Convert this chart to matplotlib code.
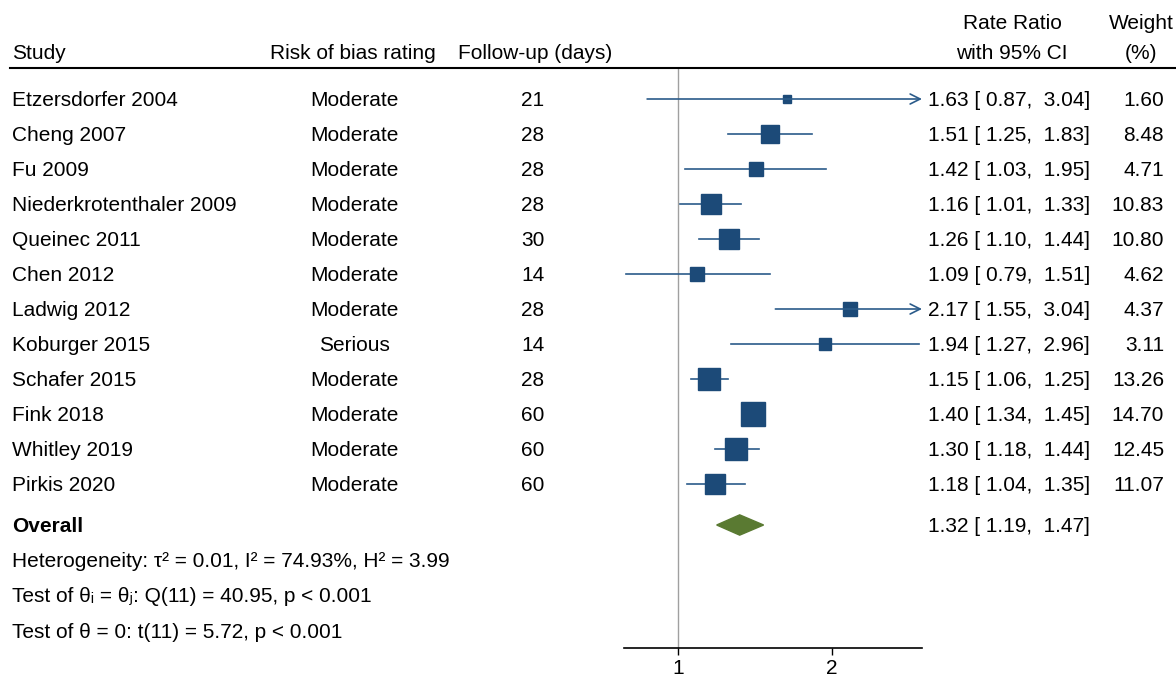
import matplotlib
matplotlib.use("Agg")
import matplotlib.pyplot as plt
import matplotlib.transforms as mtransforms
from matplotlib.lines import Line2D
from matplotlib.patches import Polygon
import numpy as np

plt.rcParams['font.family'] = ['Liberation Sans', 'DejaVu Sans']

# Data
studies = ["Etzersdorfer 2004", "Cheng 2007", "Fu 2009", "Niederkrotenthaler 2009",
           "Queinec 2011", "Chen 2012", "Ladwig 2012", "Koburger 2015",
           "Schafer 2015", "Fink 2018", "Whitley 2019", "Pirkis 2020"]
bias = ["Moderate", "Moderate", "Moderate", "Moderate", "Moderate", "Moderate",
        "Moderate", "Serious", "Moderate", "Moderate", "Moderate", "Moderate"]
followup = [21, 28, 28, 28, 30, 14, 28, 14, 28, 60, 60, 60]
rr = [1.63, 1.51, 1.42, 1.16, 1.26, 1.09, 2.17, 1.94, 1.15, 1.40, 1.30, 1.18]
lo = [0.87, 1.25, 1.03, 1.01, 1.10, 0.79, 1.55, 1.27, 1.06, 1.34, 1.18, 1.04]
hi = [3.04, 1.83, 1.95, 1.33, 1.44, 1.51, 3.04, 2.96, 1.25, 1.45, 1.44, 1.35]
weight = [1.60, 8.48, 4.71, 10.83, 10.80, 4.62, 4.37, 3.11, 13.26, 14.70, 12.45, 11.07]
overall = (1.32, 1.19, 1.47)
stats_lines = ["Heterogeneity: \u03c4\u00b2 = 0.01, I\u00b2 = 74.93%, H\u00b2 = 3.99",
               "Test of \u03b8\u1d62 = \u03b8\u2c7c: Q(11) = 40.95, p < 0.001",
               "Test of \u03b8 = 0: t(11) = 5.72, p < 0.001"]

W, H = 1176, 677
fs = 15
sq_color = "#1c4a78"
line_color = "#2b5b8a"
dia_color = "#5a7a32"
xmin, xmax = 0.784, 3.0

fig = plt.figure(figsize=(W / 100, H / 100), dpi=100)
ax = fig.add_axes([624 / W, (H - 648) / H, (922 - 624) / W, (648 - 68) / H])
ax.set_xscale("log")
ax.set_xlim(xmin, xmax)
ax.set_ylim((648 - 99) / 35, (68 - 99) / 35)

ax.axvline(1, color="#a0a0a0", lw=1, zorder=0)

for i in range(len(studies)):
    if hi[i] > xmax:
        ax.annotate("", xy=(xmax, i), xytext=(lo[i], i),
                    arrowprops=dict(arrowstyle="->", color=line_color, lw=1.2,
                                    shrinkA=0, shrinkB=0, mutation_scale=18))
    else:
        ax.plot([lo[i], hi[i]], [i, i], color=line_color, lw=1.2)
    side = 24 * np.sqrt(weight[i] / max(weight)) * 0.72
    ax.plot(rr[i], i, marker="s", markersize=side, color=sq_color, mec=sq_color)

oy = (525 - 99) / 35
est, olo, ohi = overall
ax.add_patch(Polygon([(olo, oy), (est, oy - 0.29), (ohi, oy), (est, oy + 0.29)],
                     closed=True, color=dia_color))

for s in ["top", "left", "right"]:
    ax.spines[s].set_visible(False)
ax.spines["bottom"].set_linewidth(1.2)
ax.set_xticks([1, 2])
ax.set_xticklabels(["1", "2"], fontsize=fs)
ax.xaxis.set_minor_locator(matplotlib.ticker.NullLocator())
ax.tick_params(axis="x", length=5, width=1, pad=3)
ax.set_yticks([])

trans = mtransforms.blended_transform_factory(fig.transFigure, ax.transData)
dy = 1.5 / 35  # small nudge down to line up with the rows

def put(px, y, s, ha="left", **kw):
    ax.text(px / W, y + dy, s, transform=trans, ha=ha, va="center", fontsize=fs, **kw)

# Headers
hy1 = (52 - 99) / 35
hy0 = (22 - 99) / 35
put(12, hy1, "Study")
put(353, hy1, "Risk of bias rating", ha="center")
put(535, hy1, "Follow-up (days)", ha="center")
put(1012, hy0, "Rate Ratio", ha="center")
put(1012, hy1, "with 95% CI", ha="center")
put(1141, hy0, "Weight", ha="center")
put(1141, hy1, "(%)", ha="center")
fig.add_artist(Line2D([10 / W, 1.0], [1 - 68 / H, 1 - 68 / H], color="black", lw=1.5))

for i in range(len(studies)):
    put(12, i, studies[i])
    put(354, i, bias[i], ha="center")
    put(533, i, str(followup[i]), ha="center")
    put(928, i, f"{rr[i]:.2f} [{lo[i]:5.2f}, {hi[i]:5.2f}]")
    put(1164, i, f"{weight[i]:.2f}", ha="right")

put(12, oy, "Overall", fontweight="bold")
put(928, oy, f"{est:.2f} [{olo:5.2f}, {ohi:5.2f}]")
for k, line in enumerate(stats_lines):
    put(12, (560 + 35.5 * k - 99) / 35, line)

fig.savefig("out.png", dpi=100)
